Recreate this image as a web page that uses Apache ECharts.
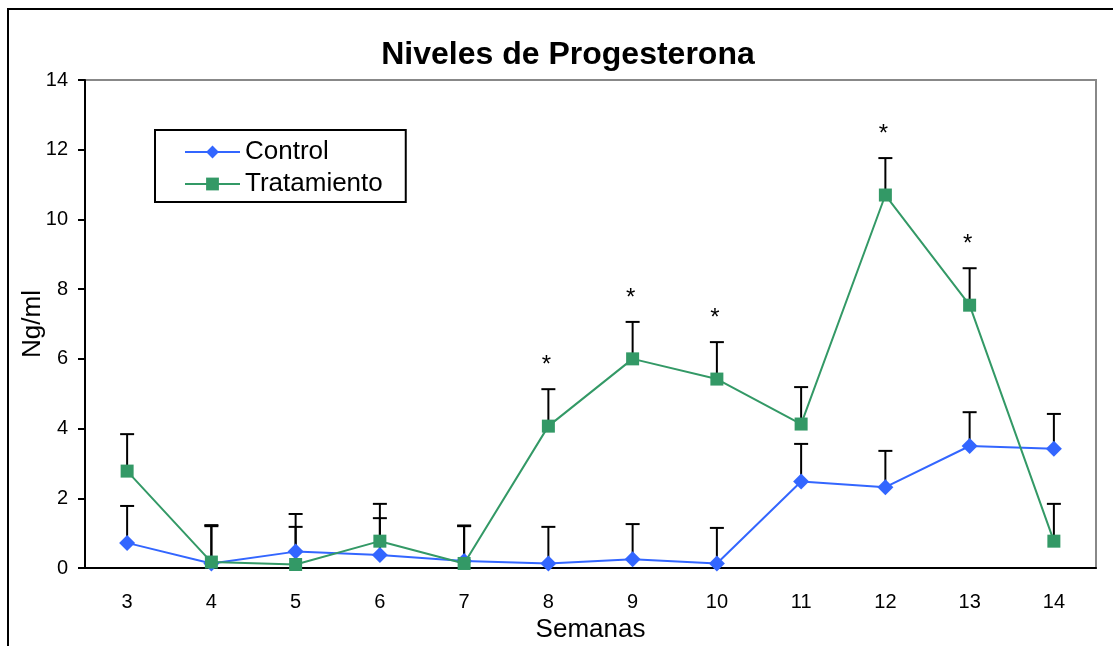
<!DOCTYPE html>
<html>
<head>
<meta charset="utf-8">
<script src="https://cdn.jsdelivr.net/npm/echarts@6/dist/echarts.min.js"></script>
<style>
	html, body { margin: 0; padding: 0; background: #fff; }
	#main { width: 1113px; height: 646px; }
</style>
</head>
<body>
<div id="main"></div>
<script>
var weeks = ['3', '4', '5', '6', '7', '8', '9', '10', '11', '12', '13', '14']
var control = [0.72, 0.13, 0.47, 0.37, 0.2, 0.13, 0.25, 0.13, 2.48, 2.32, 3.5, 3.42]
var controlErr = [1.06, 1.1, 1.08, 1.06, 1.02, 1.05, 1.01, 1.02, 1.08, 1.04, 0.97, 1.0]
var tratamiento = [2.78, 0.17, 0.1, 0.77, 0.13, 4.07, 6.0, 5.42, 4.13, 10.7, 7.54, 0.77]
var tratamientoErr = [1.06, 1.03, 1.08, 1.07, 1.07, 1.06, 1.06, 1.06, 1.06, 1.06, 1.06, 1.07]
var signif = [0, 0, 0, 0, 0, 1, 1, 1, 0, 1, 1, 0]

var FONT = 'Liberation Sans, Arial, sans-serif'

var charts = echarts.init(document.getElementById('main'))

function errData(means, errs){
	return means.map(function(m, i){ return [i, m, errs[i]] })
}

// upper error bar with a cap
function renderErr(params, api){
	var i = api.value(0), m = api.value(1), e = api.value(2)
	var p0 = api.coord([i, m]), p1 = api.coord([i, m + e])
	var st = { stroke: '#000', lineWidth: 2 }
	return {
		type: 'group',
		children: [
			{ type: 'line', shape: { x1: p0[0], y1: p0[1], x2: p1[0], y2: p1[1] }, style: st },
			{ type: 'line', shape: { x1: p1[0] - 7, y1: p1[1], x2: p1[0] + 7, y2: p1[1] }, style: st }
		]
	}
}

var starData = []
signif.forEach(function(s, i){
	if(s){ starData.push([i, tratamiento[i] + tratamientoErr[i]]) }
})

charts.setOption({
	animation: false,
	backgroundColor: '#fff',
	graphic: [{
		type: 'rect',
		shape: { x: 8, y: 9, width: 1200, height: 700 },
		style: { fill: 'none', stroke: '#000', lineWidth: 2 },
		silent: true
	}],
	title: {
		text: 'Niveles de Progesterona',
		left: 563,
		top: 34,
		textAlign: 'center',
		textStyle: { fontFamily: FONT, fontSize: 32, fontWeight: 'bold', color: '#000' }
	},
	legend: {
		data: ['Control', 'Tratamiento'],
		orient: 'vertical',
		left: 155,
		top: 130,
		borderColor: '#000',
		borderWidth: 2,
		padding: [9, 23, 5, 29],
		itemWidth: 55,
		itemHeight: 16,
		itemGap: 6,
		itemTextGap: 6,
		textStyle: { fontFamily: FONT, fontSize: 26, color: '#000' }
	},
	grid: {
		left: 85, right: 17, top: 80, bottom: 78,
		outerBoundsMode: 'none',
		show: true, borderColor: '#888', borderWidth: 2, backgroundColor: 'transparent'
	},
	xAxis: {
		type: 'category',
		data: weeks,
		boundaryGap: true,
		name: 'Semanas',
		nameLocation: 'middle',
		nameGap: 49,
		nameMoveOverlap: false,
		nameTextStyle: { fontFamily: FONT, fontSize: 26, color: '#000' },
		axisLine: { lineStyle: { color: '#000', width: 2 } },
		axisTick: { interval: 0, length: 8, lineStyle: { color: '#000', width: 2 } },
		axisLabel: { fontFamily: FONT, fontSize: 20, color: '#000', margin: 24 }
	},
	yAxis: {
		type: 'value',
		min: 0, max: 14, interval: 2,
		name: 'Ng/ml',
		nameLocation: 'middle',
		nameGap: 39,
		nameMoveOverlap: false,
		nameRotate: 90,
		nameTextStyle: { fontFamily: FONT, fontSize: 26, color: '#000' },
		axisLine: { show: true, lineStyle: { color: '#000', width: 2 } },
		axisTick: { show: true, length: 7, lineStyle: { color: '#000', width: 2 } },
		axisLabel: { fontFamily: FONT, fontSize: 20, color: '#000', margin: 17 },
		splitLine: { show: false }
	},
	series: [
		{
			type: 'custom', name: 'errC', z: 1,
			renderItem: renderErr, data: errData(control, controlErr)
		},
		{
			type: 'custom', name: 'errT', z: 1,
			renderItem: renderErr, data: errData(tratamiento, tratamientoErr)
		},
		{
			type: 'custom', name: 'sig', z: 1,
			data: starData,
			renderItem: function(params, api){
				var p = api.coord([api.value(0), api.value(1)])
				return {
					type: 'text',
					x: p[0] - 2, y: p[1] - 12,
					style: { text: '*', fontFamily: FONT, fontSize: 24, fill: '#000', align: 'center', verticalAlign: 'bottom' }
				}
			}
		},
		{
			type: 'line', name: 'Control', z: 3,
			data: control,
			symbol: 'diamond', symbolSize: 16,
			itemStyle: { color: '#3366ff' },
			lineStyle: { color: '#3366ff', width: 2 }
		},
		{
			type: 'line', name: 'Tratamiento', z: 4,
			data: tratamiento,
			symbol: 'rect', symbolSize: 13,
			itemStyle: { color: '#339966' },
			lineStyle: { color: '#339966', width: 2 }
		}
	]
})
</script>
</body>
</html>
